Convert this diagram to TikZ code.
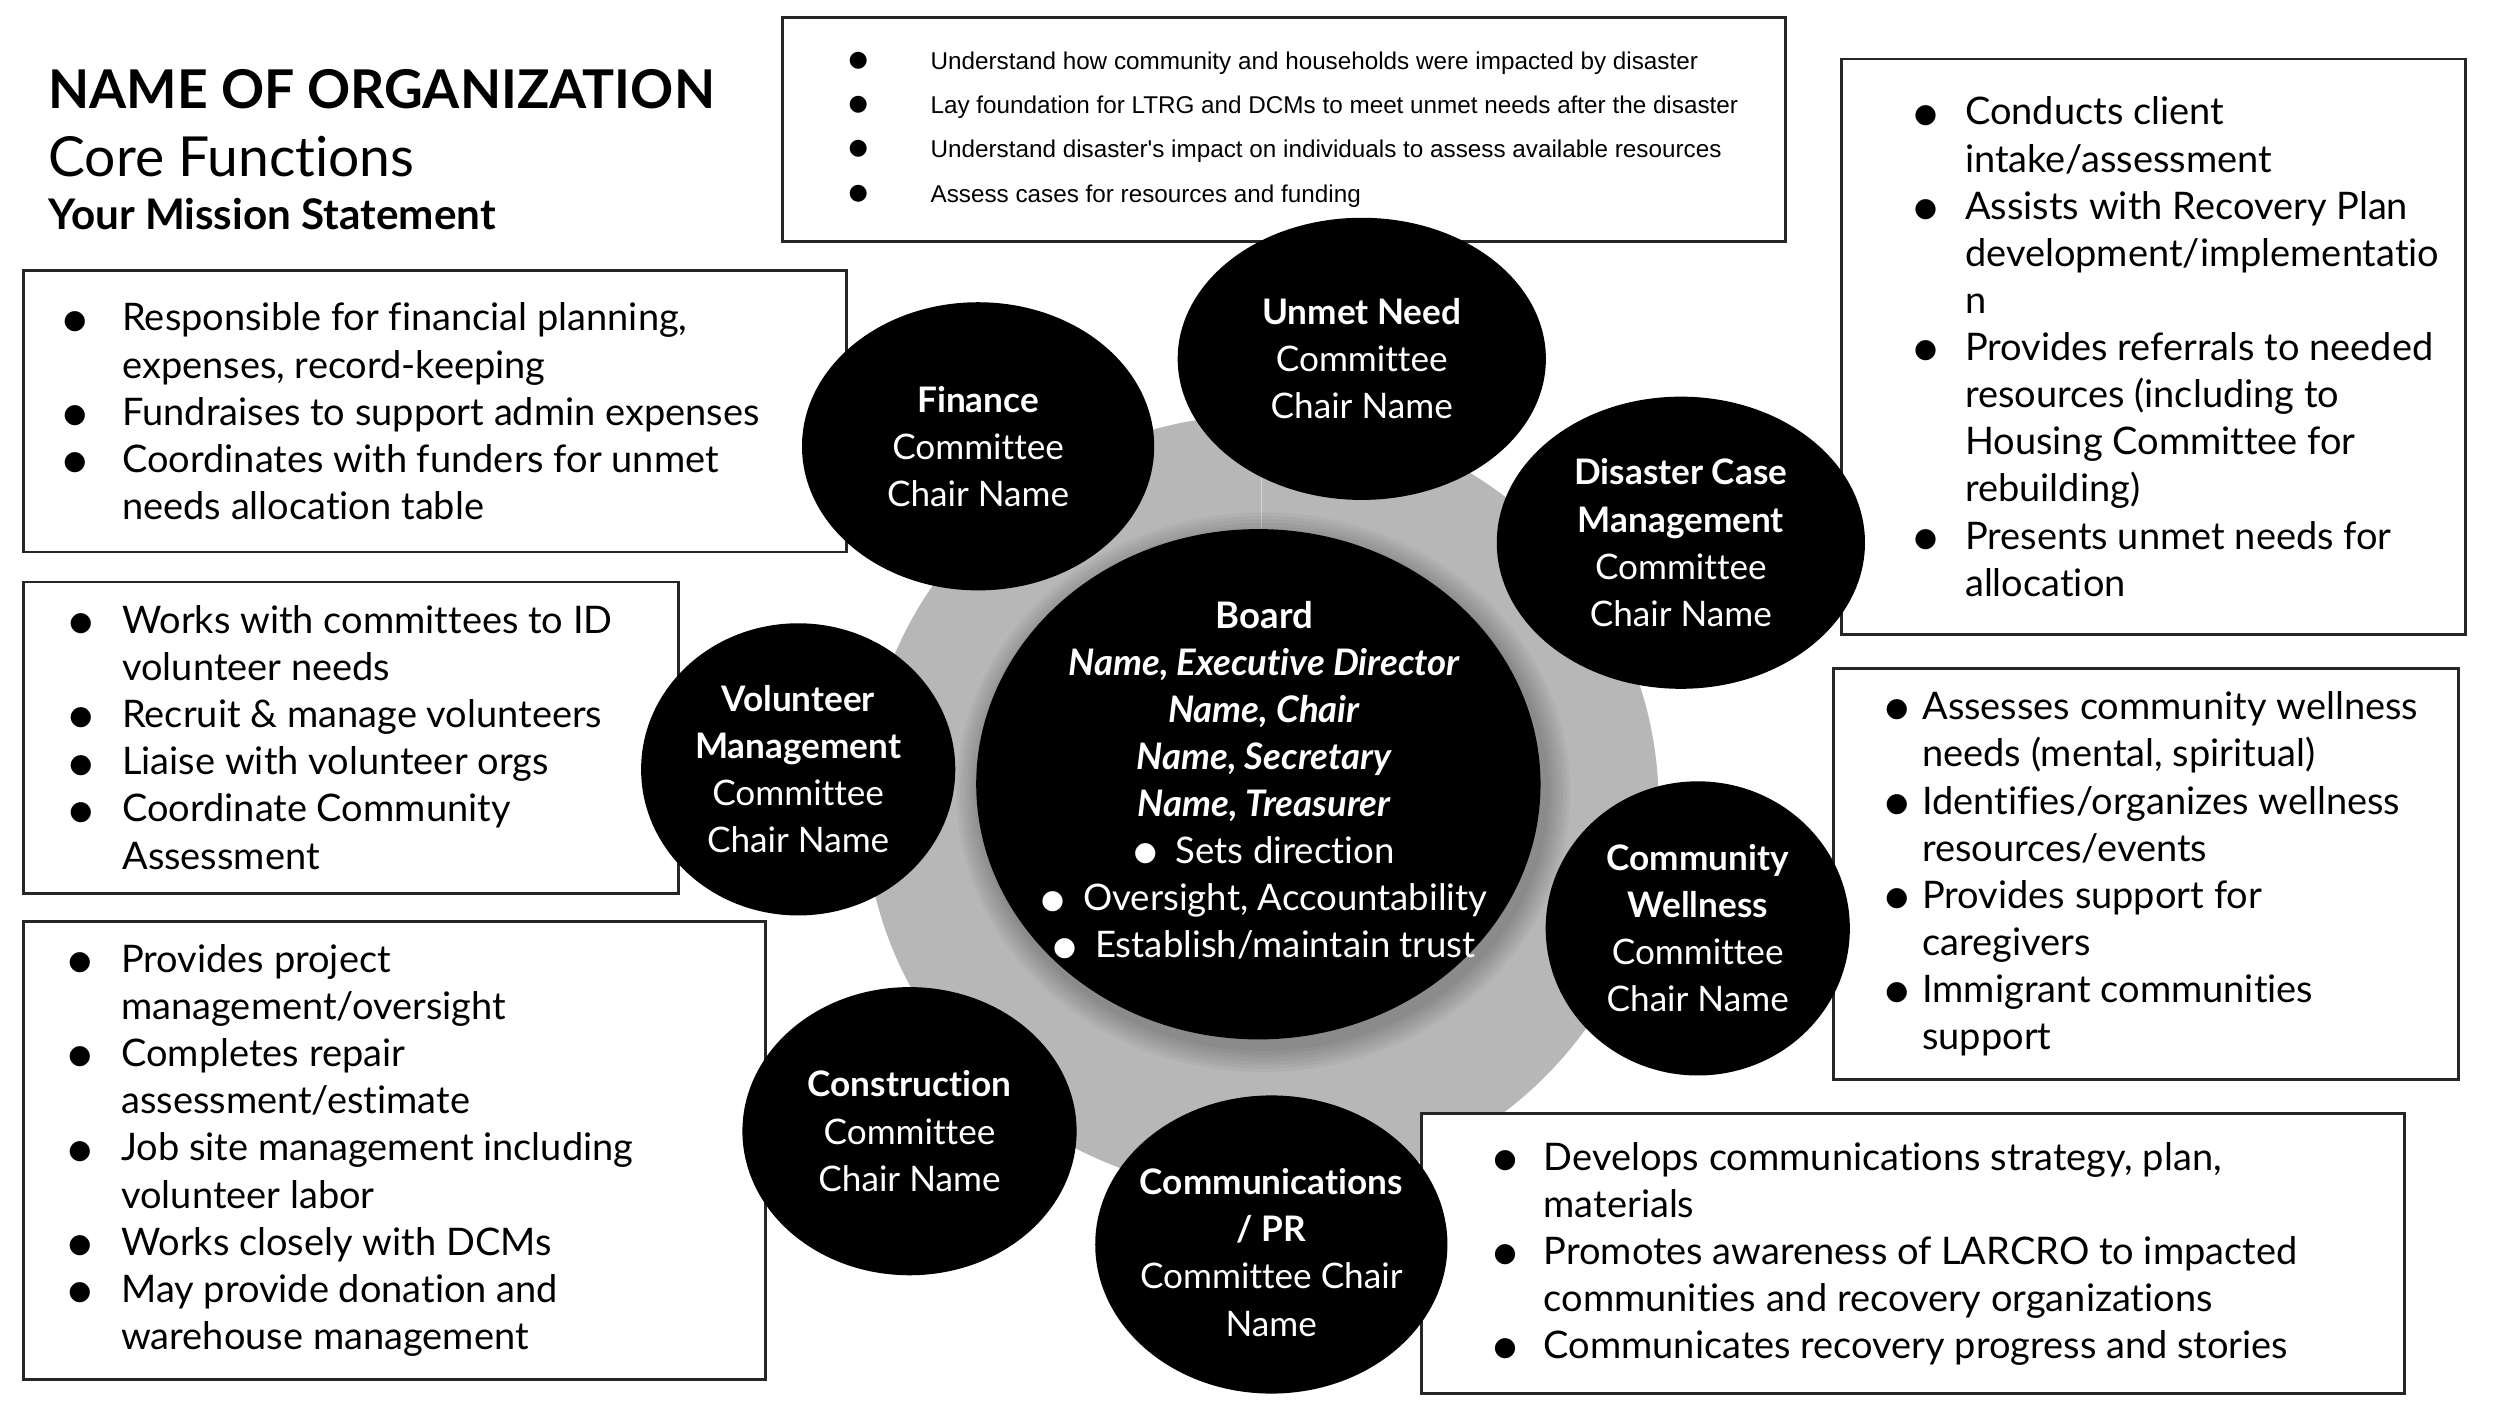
\documentclass[tikz,border=0pt]{standalone}
\usepackage{fontspec}
\setmainfont{Lato}[Ligatures={NoCommon}]
\newfontfamily\arialfont{Liberation Sans}
\newfontfamily\symfont{DejaVu Sans}
\usetikzlibrary{shapes.geometric,calc}
\definecolor{ringgrey}{HTML}{B7B7B7}
\newlength\bulw
\newcommand\bulsize{7.5}
\newcommand\itm{\makebox[\bulw][l]{\raisebox{0.8pt}{\symfont\fontsize{\bulsize}{\bulsize}\selectfont ●}}}
\newcommand\cnt{\hspace*{\bulw}}
\tikzset{
  listbox/.style={draw=black!85, line width=0.8pt, fill=white, rectangle, inner sep=0pt, anchor=north west},
  listtext/.style={anchor=west, align=left, inner sep=0pt, font=\fontsize{10.8}{13.4}\selectfont,
    execute at begin node={\global\bulw=#1}},
  committee/.style={ellipse, fill=black, inner sep=0pt},
  circtext/.style={align=center, text=white, inner sep=0pt, font=\fontsize{10}{13.4}\selectfont},
}
\begin{document}
\begin{tikzpicture}[x=0.01cm,y=-0.01cm]
  \useasboundingbox[fill=white] (0,0) rectangle (2500,1406);
  \begin{scope}[scale=0.994]
  % heading
  \node[anchor=base west, inner sep=0pt, font=\fontsize{15.2}{16}\selectfont\bfseries] (orgname) at (48,109) {NAME OF ORGANIZATION};
  \node[anchor=base west, inner sep=0pt, font=\fontsize{15.7}{16}\selectfont] (corefn) at (48,178) {Core Functions};
  \node[anchor=base west, inner sep=0pt, font=\fontsize{12}{12}\selectfont\bfseries] (mission) at (48,231) {Your Mission Statement};
  % grey ring behind the board
  \node[ellipse, fill=ringgrey, inner sep=0pt, minimum width=7.94cm, minimum height=7.78cm] (ring) at (1269,809) {};
  \draw[ringgrey!60!white, line width=0.4pt] (ring.north) -- (ring.center);
  % soft shadow of the board
  \coordinate (boardc) at (1266,789);
  \foreach \s in {2,4,...,14}
    \node[ellipse, fill=black, opacity=0.035, inner sep=0pt, minimum width=5.64cm+\s pt, minimum height=5.10cm+\s pt] at ($(boardc)+(5,8)$) {};
  % boxes
  \node[listbox, minimum width=10.02cm, minimum height=2.24cm] (unmetbox) at (786,16) {};
  \node[listbox, minimum width=6.24cm, minimum height=5.75cm] (dcmbox) at (1851,58) {};
  \node[listbox, minimum width=8.23cm, minimum height=2.81cm] (finbox) at (22,271) {};
  \node[listbox, minimum width=6.55cm, minimum height=3.11cm] (volbox) at (22,584) {};
  \node[listbox, minimum width=7.42cm, minimum height=4.57cm] (conbox) at (22,926) {};
  \node[listbox, minimum width=6.25cm, minimum height=4.11cm] (wellbox) at (1843,671) {};
  \node[listbox, minimum width=9.82cm, minimum height=2.80cm] (combox) at (1429,1119) {};
  \node[listtext=0.82cm, font=\arialfont\fontsize{6.9}{12.6}\selectfont,
    execute at begin node={\renewcommand\bulsize{6.3}}] (unmettext) at ($(unmetbox.west)+(67,0)$)
    {\itm Understand how community and households were impacted by disaster\\
     \itm Lay foundation for LTRG and DCMs to meet unmet needs after the disaster\\
     \itm Understand disaster's impact on individuals to assess available resources\\
     \itm Assess cases for resources and funding};
  \node[listtext=0.51cm] (dcmtext) at ($(dcmbox.west)+(74,0)$)
    {\itm Conducts client\\ \cnt intake/assessment\\
     \itm Assists with Recovery Plan\\ \cnt development/implementatio\\ \cnt n\\
     \itm Provides referrals to needed\\ \cnt resources (including to\\ \cnt Housing Committee for\\ \cnt rebuilding)\\
     \itm Presents unmet needs for\\ \cnt allocation};
  \node[listtext=0.59cm] (fintext) at ($(finbox.west)+(41,0)$)
    {\itm Responsible for financial planning,\\ \cnt expenses, record-keeping\\
     \itm Fundraises to support admin expenses\\
     \itm Coordinates with funders for unmet\\ \cnt needs allocation table};
  \node[listtext=0.53cm] (voltext) at ($(volbox.west)+(47,0)$)
    {\itm Works with committees to ID\\ \cnt volunteer needs\\
     \itm Recruit \& manage volunteers\\
     \itm Liaise with volunteer orgs\\
     \itm Coordinate Community\\ \cnt Assessment};
  \node[listtext=0.53cm] (context) at ($(conbox.west)+(46,0)$)
    {\itm Provides project\\ \cnt management/oversight\\
     \itm Completes repair\\ \cnt assessment/estimate\\
     \itm Job site management including\\ \cnt volunteer labor\\
     \itm Works closely with DCMs\\
     \itm May provide donation and\\ \cnt warehouse management};
  \node[listtext=0.37cm] (welltext) at ($(wellbox.west)+(53,0)$)
    {\itm Assesses community wellness\\ \cnt needs (mental, spiritual)\\
     \itm Identifies/organizes wellness\\ \cnt resources/events\\
     \itm Provides support for\\ \cnt caregivers\\
     \itm Immigrant communities\\ \cnt support};
  \node[listtext=0.50cm] (comtext) at ($(combox.west)+(73,0)$)
    {\itm Develops communications strategy, plan,\\ \cnt materials\\
     \itm Promotes awareness of LARCRO to impacted\\ \cnt communities and recovery organizations\\
     \itm Communicates recovery progress and stories};
  % committees
  \node[committee, minimum width=3.52cm, minimum height=2.88cm] (finance) at (984,449) {};
  \node[committee, minimum width=3.68cm, minimum height=2.82cm] (unmet) at (1370,361) {};
  \node[committee, minimum width=3.68cm, minimum height=2.92cm] (dcm) at (1691,546) {};
  \node[committee, minimum width=3.14cm, minimum height=2.92cm] (volunteer) at (803,774) {};
  \node[committee, minimum width=3.04cm, minimum height=2.94cm] (wellness) at (1708,934) {};
  \node[committee, minimum width=3.34cm, minimum height=2.88cm] (construction) at (915,1138) {};
  \node[committee, minimum width=3.52cm, minimum height=2.98cm] (comms) at (1279,1252) {};
  \node[circtext] (financetext) at (finance) {\textbf{Finance}\\Committee\\Chair Name};
  \node[circtext] (unmettitle) at (unmet) {\textbf{Unmet Need}\\Committee\\Chair Name};
  \node[circtext] (dcmtitle) at (dcm) {\textbf{Disaster Case}\\\textbf{Management}\\Committee\\Chair Name};
  \node[circtext] (volunteertext) at (volunteer) {\textbf{Volunteer}\\\textbf{Management}\\Committee\\Chair Name};
  \node[circtext] (wellnesstext) at (wellness) {\textbf{Community}\\\textbf{Wellness}\\Committee\\Chair Name};
  \node[circtext] (constructiontext) at (construction) {\textbf{Construction}\\Committee\\Chair Name};
  \node[circtext] (commstext) at ($(comms)+(0,8)$) {\textbf{Communications}\\\textbf{/ PR}\\Committee Chair\\Name};
  % board
  \node[committee, minimum width=5.64cm, minimum height=5.10cm] (board) at (boardc) {};
  \node[circtext, font=\fontsize{10.4}{13.4}\selectfont, execute at begin node={\global\bulw=0.42cm}] (boardtext) at ($(board)+(6,-4)$)
    {\textbf{Board}\\
     \textbf{\textit{Name, Executive Director}}\\
     \textbf{\textit{Name, Chair}}\\
     \textbf{\textit{Name, Secretary}}\\
     \textbf{\textit{Name, Treasurer}}\\
     \itm Sets direction\\
     \itm Oversight, Accountability\\
     \itm Establish/maintain trust};
  \end{scope}
\end{tikzpicture}
\end{document}
